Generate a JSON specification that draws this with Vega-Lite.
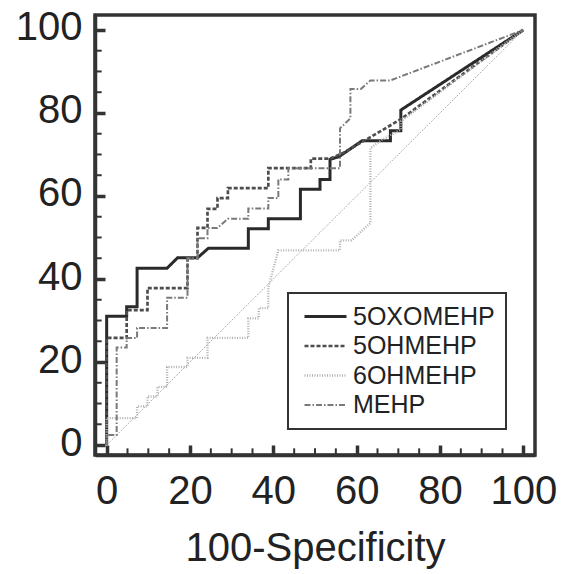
{
  "$schema": "https://vega.github.io/schema/vega-lite/v6.json",
  "width": 440,
  "height": 440,
  "autosize": "none",
  "padding": {"left": 95, "top": 15, "right": 29, "bottom": 119},
  "background": "white",
  "config": {
    "view": {"stroke": "#333", "strokeWidth": 3.5},
    "font": "Liberation Sans"
  },
  "layer": [
    {
      "data": {"values": [
        {"v": 5}, {"v": 10}, {"v": 15}, {"v": 25}, {"v": 30}, {"v": 35}, {"v": 45}, {"v": 50},
        {"v": 55}, {"v": 65}, {"v": 70}, {"v": 75}, {"v": 85}, {"v": 90}, {"v": 95}
      ]},
      "mark": {"type": "rule", "color": "#333", "strokeWidth": 2, "strokeCap": "butt"},
      "encoding": {
        "x": {"field": "v", "type": "quantitative"},
        "y": {"datum": -2.4, "type": "quantitative"},
        "y2": {"datum": -0.8}
      }
    },
    {
      "data": {"values": [
        {"v": 5}, {"v": 10}, {"v": 15}, {"v": 25}, {"v": 30}, {"v": 35}, {"v": 45}, {"v": 50},
        {"v": 55}, {"v": 65}, {"v": 70}, {"v": 75}, {"v": 85}, {"v": 90}, {"v": 95}
      ]},
      "mark": {"type": "rule", "color": "#333", "strokeWidth": 2, "strokeCap": "butt"},
      "encoding": {
        "y": {"field": "v", "type": "quantitative"},
        "x": {"datum": -2.8, "type": "quantitative"},
        "x2": {"datum": -1.2}
      }
    },
    {
      "data": {"values": [{"x": 0, "y": 0}, {"x": 100, "y": 100}]},
      "mark": {"type": "line", "stroke": "#888", "strokeWidth": 1, "strokeDash": [1, 1.5]},
      "encoding": {
        "x": {"field": "x", "type": "quantitative"},
        "y": {"field": "y", "type": "quantitative"}
      }
    },
    {
      "data": {"values": [
        {"s": "5OXOMEHP", "i": 0, "x": 0, "y": 0},
        {"s": "5OXOMEHP", "i": 1, "x": 0, "y": 31},
        {"s": "5OXOMEHP", "i": 2, "x": 4.8, "y": 31},
        {"s": "5OXOMEHP", "i": 3, "x": 4.8, "y": 33.3},
        {"s": "5OXOMEHP", "i": 4, "x": 7.3, "y": 33.3},
        {"s": "5OXOMEHP", "i": 5, "x": 7.3, "y": 42.6},
        {"s": "5OXOMEHP", "i": 6, "x": 14.5, "y": 42.6},
        {"s": "5OXOMEHP", "i": 7, "x": 17, "y": 45.1},
        {"s": "5OXOMEHP", "i": 8, "x": 21.8, "y": 45.1},
        {"s": "5OXOMEHP", "i": 9, "x": 24.4, "y": 47.4},
        {"s": "5OXOMEHP", "i": 10, "x": 34, "y": 47.4},
        {"s": "5OXOMEHP", "i": 11, "x": 34, "y": 52.1},
        {"s": "5OXOMEHP", "i": 12, "x": 38.8, "y": 52.1},
        {"s": "5OXOMEHP", "i": 13, "x": 38.8, "y": 54.5},
        {"s": "5OXOMEHP", "i": 14, "x": 46.5, "y": 54.5},
        {"s": "5OXOMEHP", "i": 15, "x": 46.5, "y": 61.6},
        {"s": "5OXOMEHP", "i": 16, "x": 51.2, "y": 61.6},
        {"s": "5OXOMEHP", "i": 17, "x": 51.2, "y": 64},
        {"s": "5OXOMEHP", "i": 18, "x": 53.6, "y": 64},
        {"s": "5OXOMEHP", "i": 19, "x": 53.6, "y": 68.8},
        {"s": "5OXOMEHP", "i": 20, "x": 55.8, "y": 69.5},
        {"s": "5OXOMEHP", "i": 21, "x": 61.3, "y": 73.3},
        {"s": "5OXOMEHP", "i": 22, "x": 68.1, "y": 73.3},
        {"s": "5OXOMEHP", "i": 23, "x": 68.1, "y": 75.7},
        {"s": "5OXOMEHP", "i": 24, "x": 70.6, "y": 75.7},
        {"s": "5OXOMEHP", "i": 25, "x": 70.6, "y": 80.7},
        {"s": "5OXOMEHP", "i": 26, "x": 100, "y": 100},

        {"s": "5OHMEHP", "i": 0, "x": 0, "y": 0},
        {"s": "5OHMEHP", "i": 1, "x": 0, "y": 25.8},
        {"s": "5OHMEHP", "i": 2, "x": 4.8, "y": 25.8},
        {"s": "5OHMEHP", "i": 3, "x": 4.8, "y": 32.5},
        {"s": "5OHMEHP", "i": 4, "x": 9.8, "y": 32.5},
        {"s": "5OHMEHP", "i": 5, "x": 9.8, "y": 37.8},
        {"s": "5OHMEHP", "i": 6, "x": 19.4, "y": 37.8},
        {"s": "5OHMEHP", "i": 7, "x": 19.4, "y": 45},
        {"s": "5OHMEHP", "i": 8, "x": 21.8, "y": 45},
        {"s": "5OHMEHP", "i": 9, "x": 21.8, "y": 52.3},
        {"s": "5OHMEHP", "i": 10, "x": 24.2, "y": 52.3},
        {"s": "5OHMEHP", "i": 11, "x": 24.2, "y": 56.9},
        {"s": "5OHMEHP", "i": 12, "x": 26.6, "y": 56.9},
        {"s": "5OHMEHP", "i": 13, "x": 26.6, "y": 59.5},
        {"s": "5OHMEHP", "i": 14, "x": 29.1, "y": 59.5},
        {"s": "5OHMEHP", "i": 15, "x": 29.1, "y": 61.9},
        {"s": "5OHMEHP", "i": 16, "x": 38.8, "y": 61.9},
        {"s": "5OHMEHP", "i": 17, "x": 38.8, "y": 66.7},
        {"s": "5OHMEHP", "i": 18, "x": 49, "y": 66.7},
        {"s": "5OHMEHP", "i": 19, "x": 49, "y": 69},
        {"s": "5OHMEHP", "i": 20, "x": 53.6, "y": 69},
        {"s": "5OHMEHP", "i": 21, "x": 57, "y": 70.5},
        {"s": "5OHMEHP", "i": 22, "x": 63, "y": 74},
        {"s": "5OHMEHP", "i": 23, "x": 70.6, "y": 78.5},
        {"s": "5OHMEHP", "i": 24, "x": 100, "y": 100},

        {"s": "6OHMEHP", "i": 0, "x": 0, "y": 0},
        {"s": "6OHMEHP", "i": 1, "x": 0, "y": 6.5},
        {"s": "6OHMEHP", "i": 2, "x": 7.3, "y": 6.5},
        {"s": "6OHMEHP", "i": 3, "x": 7.3, "y": 9.3},
        {"s": "6OHMEHP", "i": 4, "x": 9.8, "y": 9.3},
        {"s": "6OHMEHP", "i": 5, "x": 9.8, "y": 11.7},
        {"s": "6OHMEHP", "i": 6, "x": 12.2, "y": 11.7},
        {"s": "6OHMEHP", "i": 7, "x": 12.2, "y": 14},
        {"s": "6OHMEHP", "i": 8, "x": 14.5, "y": 14},
        {"s": "6OHMEHP", "i": 9, "x": 14.5, "y": 18.8},
        {"s": "6OHMEHP", "i": 10, "x": 19.4, "y": 18.8},
        {"s": "6OHMEHP", "i": 11, "x": 19.4, "y": 21},
        {"s": "6OHMEHP", "i": 12, "x": 24.2, "y": 21},
        {"s": "6OHMEHP", "i": 13, "x": 24.2, "y": 25.8},
        {"s": "6OHMEHP", "i": 14, "x": 34, "y": 25.8},
        {"s": "6OHMEHP", "i": 15, "x": 34, "y": 30.5},
        {"s": "6OHMEHP", "i": 16, "x": 36.5, "y": 30.5},
        {"s": "6OHMEHP", "i": 17, "x": 36.5, "y": 33},
        {"s": "6OHMEHP", "i": 18, "x": 38.8, "y": 33},
        {"s": "6OHMEHP", "i": 19, "x": 38.8, "y": 38},
        {"s": "6OHMEHP", "i": 20, "x": 41.2, "y": 46.9},
        {"s": "6OHMEHP", "i": 21, "x": 56, "y": 46.9},
        {"s": "6OHMEHP", "i": 22, "x": 56, "y": 49.3},
        {"s": "6OHMEHP", "i": 23, "x": 58.8, "y": 49.3},
        {"s": "6OHMEHP", "i": 24, "x": 63.3, "y": 53.5},
        {"s": "6OHMEHP", "i": 25, "x": 63.3, "y": 71.5},
        {"s": "6OHMEHP", "i": 26, "x": 66, "y": 73.5},
        {"s": "6OHMEHP", "i": 27, "x": 70.6, "y": 76},
        {"s": "6OHMEHP", "i": 28, "x": 70.6, "y": 78},
        {"s": "6OHMEHP", "i": 29, "x": 100, "y": 100},

        {"s": "MEHP", "i": 0, "x": 0, "y": 0},
        {"s": "MEHP", "i": 1, "x": 0, "y": 2.4},
        {"s": "MEHP", "i": 2, "x": 2.4, "y": 2.4},
        {"s": "MEHP", "i": 3, "x": 2.4, "y": 23.5},
        {"s": "MEHP", "i": 4, "x": 4.8, "y": 23.5},
        {"s": "MEHP", "i": 5, "x": 4.8, "y": 25.8},
        {"s": "MEHP", "i": 6, "x": 7.3, "y": 25.8},
        {"s": "MEHP", "i": 7, "x": 7.3, "y": 28.2},
        {"s": "MEHP", "i": 8, "x": 14.5, "y": 28.2},
        {"s": "MEHP", "i": 9, "x": 14.5, "y": 35.5},
        {"s": "MEHP", "i": 10, "x": 19.4, "y": 35.5},
        {"s": "MEHP", "i": 11, "x": 19.4, "y": 45},
        {"s": "MEHP", "i": 12, "x": 21.8, "y": 45},
        {"s": "MEHP", "i": 13, "x": 21.8, "y": 49.8},
        {"s": "MEHP", "i": 14, "x": 24.2, "y": 49.8},
        {"s": "MEHP", "i": 15, "x": 24.2, "y": 52.3},
        {"s": "MEHP", "i": 16, "x": 26.6, "y": 52.3},
        {"s": "MEHP", "i": 17, "x": 29.1, "y": 54.5},
        {"s": "MEHP", "i": 18, "x": 34, "y": 54.5},
        {"s": "MEHP", "i": 19, "x": 34, "y": 57},
        {"s": "MEHP", "i": 20, "x": 38.8, "y": 57},
        {"s": "MEHP", "i": 21, "x": 38.8, "y": 59.5},
        {"s": "MEHP", "i": 22, "x": 41.2, "y": 59.5},
        {"s": "MEHP", "i": 23, "x": 41.2, "y": 64},
        {"s": "MEHP", "i": 24, "x": 43.6, "y": 64},
        {"s": "MEHP", "i": 25, "x": 43.6, "y": 66.7},
        {"s": "MEHP", "i": 26, "x": 56, "y": 66.7},
        {"s": "MEHP", "i": 27, "x": 56, "y": 76.3},
        {"s": "MEHP", "i": 28, "x": 58.5, "y": 78.7},
        {"s": "MEHP", "i": 29, "x": 58.5, "y": 85.8},
        {"s": "MEHP", "i": 30, "x": 61, "y": 85.8},
        {"s": "MEHP", "i": 31, "x": 63.3, "y": 87.8},
        {"s": "MEHP", "i": 32, "x": 68, "y": 87.8},
        {"s": "MEHP", "i": 33, "x": 100, "y": 100}
      ]},
      "mark": {"type": "line", "strokeCap": "butt"},
      "encoding": {
        "x": {
          "field": "x", "type": "quantitative",
          "scale": {"domain": [-2.8, 102.8], "nice": false, "zero": false},
          "axis": {
            "values": [0, 20, 40, 60, 80, 100],
            "tickSize": -10,
            "tickWidth": 3.5,
            "tickColor": "#333",
            "domainColor": "#333",
            "domainWidth": 3.5,
            "grid": false,
            "labelOverlap": false,
            "labelFlush": false,
            "labelFont": "Liberation Sans",
            "labelFontSize": 40,
            "labelColor": "#222",
            "labelPadding": 26,
            "title": "100-Specificity",
            "titleFont": "Liberation Sans",
            "titleFontSize": 40,
            "titleFontWeight": "normal",
            "titleColor": "#222",
            "titlePadding": 17
          }
        },
        "y": {
          "field": "y", "type": "quantitative",
          "scale": {"domain": [-2.4, 103.6], "nice": false, "zero": false},
          "axis": {
            "values": [0, 20, 40, 60, 80, 100],
            "tickSize": -10,
            "tickWidth": 3.5,
            "tickColor": "#333",
            "domainColor": "#333",
            "domainWidth": 3.5,
            "grid": false,
            "labelOverlap": false,
            "labelFlush": false,
            "labelFont": "Liberation Sans",
            "labelFontSize": 40,
            "labelColor": "#222",
            "labelPadding": 23,
            "labelOffset": -2,
            "title": null
          }
        },
        "order": {"field": "i", "type": "quantitative"},
        "color": {
          "field": "s", "type": "nominal",
          "scale": {"domain": ["5OXOMEHP", "5OHMEHP", "6OHMEHP", "MEHP"], "range": ["#2a2a2a", "#4d4d4d", "#b0b0b0", "#7a7a7a"]},
          "legend": {
            "orient": "none",
            "legendX": 193,
            "legendY": 278,
            "title": null,
            "symbolType": "M-1.4,0H7",
            "symbolSize": 100,
            "labelFont": "Liberation Sans",
            "labelFontSize": 25,
            "labelColor": "#222",
            "labelOffset": 29,
            "padding": 11,
            "rowPadding": 3.5,
            "strokeColor": "#333",
            "labelExpr": "datum.label + '     '",
            "encode": {"legend": {"update": {"strokeWidth": {"value": 2}}}}
          }
        },
        "strokeDash": {
          "field": "s", "type": "nominal",
          "scale": {"domain": ["5OXOMEHP", "5OHMEHP", "6OHMEHP", "MEHP"], "range": [[1, 0], [4, 2], [1, 1.5], [6, 2, 1.5, 2]]}
        },
        "strokeWidth": {
          "field": "s", "type": "nominal",
          "scale": {"domain": ["5OXOMEHP", "5OHMEHP", "6OHMEHP", "MEHP"], "range": [3, 2, 1.5, 1.5]}
        }
      }
    }
  ]
}
